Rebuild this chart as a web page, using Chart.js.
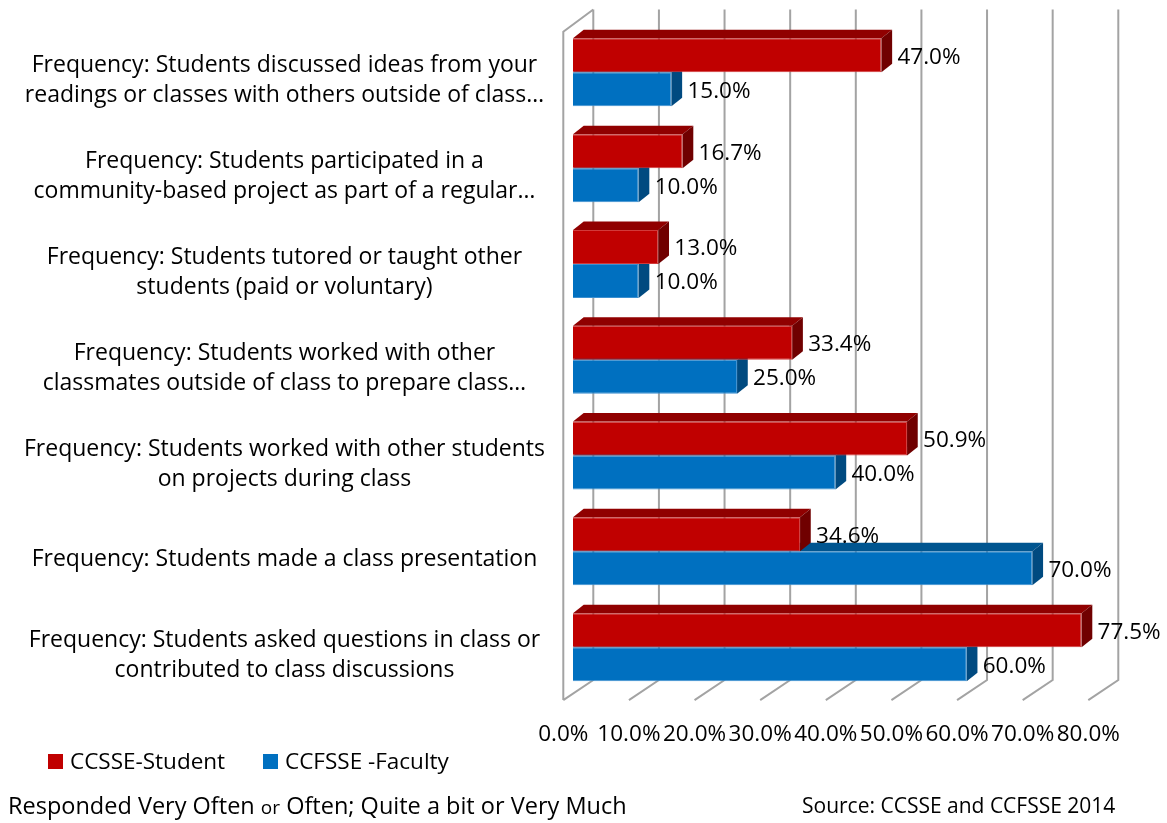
<!DOCTYPE html>
<html>
<head>
<meta charset="utf-8">
<script src="https://cdn.jsdelivr.net/npm/chart.js@4.4.1/dist/chart.umd.min.js"></script>
<style>
  html, body { margin: 0; padding: 0; background: #fff; }
  #wrap { position: relative; width: 1167px; height: 823px; overflow: hidden; }
  #chart { position: absolute; left: 0; top: 0; }
  .note { position: absolute; font-family: "Open Sans", sans-serif; color: #000; white-space: nowrap; line-height: 30px; }
  #note-left { left: 8px; top: 790px; font-size: 23.5px; }
  #note-left small { font-size: 19px; }
  #note-right { left: 802px; top: 790px; font-size: 21px; }
  #legend { position: absolute; left: 0; top: 746px; height: 30px; font-family: "Open Sans", sans-serif; font-size: 22.5px; line-height: 30px; color: #000; }
  #legend span { position: absolute; white-space: nowrap; }
  #legend i { position: absolute; width: 15px; height: 15px; top: 8px; }
</style>
</head>
<body>
<div id="wrap">
  <canvas id="chart" width="1167" height="823"></canvas>
  <div id="legend"></div>
  <div class="note" id="note-left">Responded Very Often <small>or</small> Often; Quite a bit or Very Much</div>
  <div class="note" id="note-right">Source: CCSSE and CCFSSE 2014</div>
</div>
<script>
// ── data ──
const categories = [
  ["Frequency: Students discussed ideas from your", "readings or classes with others outside of class…"],
  ["Frequency: Students participated in a", "community-based project as part of a regular…"],
  ["Frequency: Students tutored or taught other", "students (paid or voluntary)"],
  ["Frequency: Students worked with other", "classmates outside of class to prepare class…"],
  ["Frequency: Students worked with other students", "on projects during class"],
  "Frequency: Students made a class presentation",
  ["Frequency: Students asked questions in class or", "contributed to class discussions"]
];
const studentPct = [47.0, 16.7, 13.0, 33.4, 50.9, 34.6, 77.5];
const facultyPct = [15.0, 10.0, 10.0, 25.0, 40.0, 70.0, 60.0];
const seriesNames = ["CCSSE-Student", "CCFSSE -Faculty"];
const tickLabels = ["0.0%", "10.0%", "20.0%", "30.0%", "40.0%", "50.0%", "60.0%", "70.0%", "80.0%"];

// ── look ──
const FONT = "'Open Sans', sans-serif";
const FRONT = ["#C00000", "#0070C0"];
const EDGE  = ["#d23a3a", "#3b8fd0"];
const TOPF  = ["#900000", "#005590"];
const SIDE  = ["#700000", "#004a80"];
const DX = 10.7, DY = -8.5;           // bar depth
const WALL_BACK = 20.3, WALL_FRONT = -9.7;

Chart.defaults.font.family = FONT;
Chart.defaults.color = "#000";

// legend (html, left-aligned under the axis)
const legendPos = [[48, 70], [263, 285]];
document.getElementById("legend").innerHTML = seriesNames.map((n, i) =>
  `<i style="left:${legendPos[i][0]}px;background:${FRONT[i]}"></i><span style="left:${legendPos[i][1]}px">${n}</span>`
).join("");

const bar3d = {
  id: "bar3d",
  beforeDatasetsDraw(chart) {
    const { ctx, chartArea: a, scales: { x } } = chart;
    const backTop = a.top - 15, backBot = a.bottom - 15;
    const frontTop = a.top + 7.25, frontBot = a.bottom + 5;
    const fx = x.getPixelForValue(0) + WALL_FRONT;
    ctx.save();
    ctx.strokeStyle = "#a3a3a3";
    ctx.lineWidth = 2;
    ctx.beginPath();
    ctx.moveTo(x.getPixelForValue(0) + WALL_BACK, backTop);
    ctx.lineTo(fx, frontTop);
    ctx.lineTo(fx, frontBot);
    x.ticks.forEach(t => {
      const bx = x.getPixelForValue(t.value) + WALL_BACK;
      ctx.moveTo(bx, backTop);
      ctx.lineTo(bx, backBot);
      ctx.lineTo(bx - (WALL_BACK - WALL_FRONT), frontBot);
    });
    ctx.stroke();
    ctx.restore();
  },
  afterDatasetDraw(chart, args) {
    const { ctx } = chart;
    const i = args.index;
    ctx.save();
    args.meta.data.forEach(bar => {
      const { x, y, base, height } = bar.getProps(["x", "y", "base", "height"], true);
      const top = y - height / 2, bot = y + height / 2;
      ctx.fillStyle = TOPF[i];
      ctx.beginPath();
      ctx.moveTo(base, top); ctx.lineTo(x, top);
      ctx.lineTo(x + DX, top + DY); ctx.lineTo(base + DX, top + DY);
      ctx.closePath(); ctx.fill();
      ctx.fillStyle = SIDE[i];
      ctx.beginPath();
      ctx.moveTo(x, top); ctx.lineTo(x + DX, top + DY);
      ctx.lineTo(x + DX, bot + DY); ctx.lineTo(x, bot);
      ctx.closePath(); ctx.fill();
    });
    ctx.restore();
  },
  afterDatasetsDraw(chart) {
    const { ctx } = chart;
    ctx.save();
    ctx.font = "22.5px " + FONT;
    ctx.fillStyle = "#000";
    ctx.textAlign = "left";
    ctx.textBaseline = "middle";
    chart.data.datasets.forEach((ds, di) => {
      chart.getDatasetMeta(di).data.forEach((bar, j) => {
        ctx.fillText(ds.data[j].toFixed(1) + "%", bar.x + 16, bar.y + 2);
      });
    });
    ctx.restore();
  }
};

function noPad(s) { s.paddingTop = 0; s.paddingBottom = 0; s.paddingLeft = 0; s.paddingRight = 0; }

new Chart(document.getElementById("chart"), {
  type: "bar",
  data: {
    labels: categories,
    datasets: [
      { label: seriesNames[0], data: studentPct, backgroundColor: FRONT[0], borderColor: EDGE[0], borderWidth: 1 },
      { label: seriesNames[1], data: facultyPct, backgroundColor: FRONT[1], borderColor: EDGE[1], borderWidth: 1 }
    ]
  },
  options: {
    indexAxis: "y",
    responsive: false,
    animation: false,
    categoryPercentage: 0.71,
    barPercentage: 1,
    layout: { padding: { left: 15, right: 69, top: 24.45, bottom: 67.95 } },
    plugins: {
      legend: { display: false },
      tooltip: { enabled: false }
    },
    scales: {
      x: {
        min: 0, max: 80,
        grid: { display: false, drawTicks: false },
        border: { display: false },
        afterFit(s) { s.height = 60; noPad(s); },
        ticks: {
          stepSize: 10, autoSkip: false, maxRotation: 0, minRotation: 0,
          padding: 26.45, labelOffset: -9.7,
          callback: (v, i) => tickLabels[i],
          font: { size: 22.5 }
        }
      },
      y: {
        grid: { display: false, drawTicks: false },
        border: { display: false },
        afterFit(s) { s.width = 558; noPad(s); },
        ticks: {
          autoSkip: false, crossAlign: "center", padding: 28, labelOffset: 8.5,
          font: { size: 23, lineHeight: 1.3 }
        }
      }
    }
  },
  plugins: [bar3d]
});
</script>
</body>
</html>
